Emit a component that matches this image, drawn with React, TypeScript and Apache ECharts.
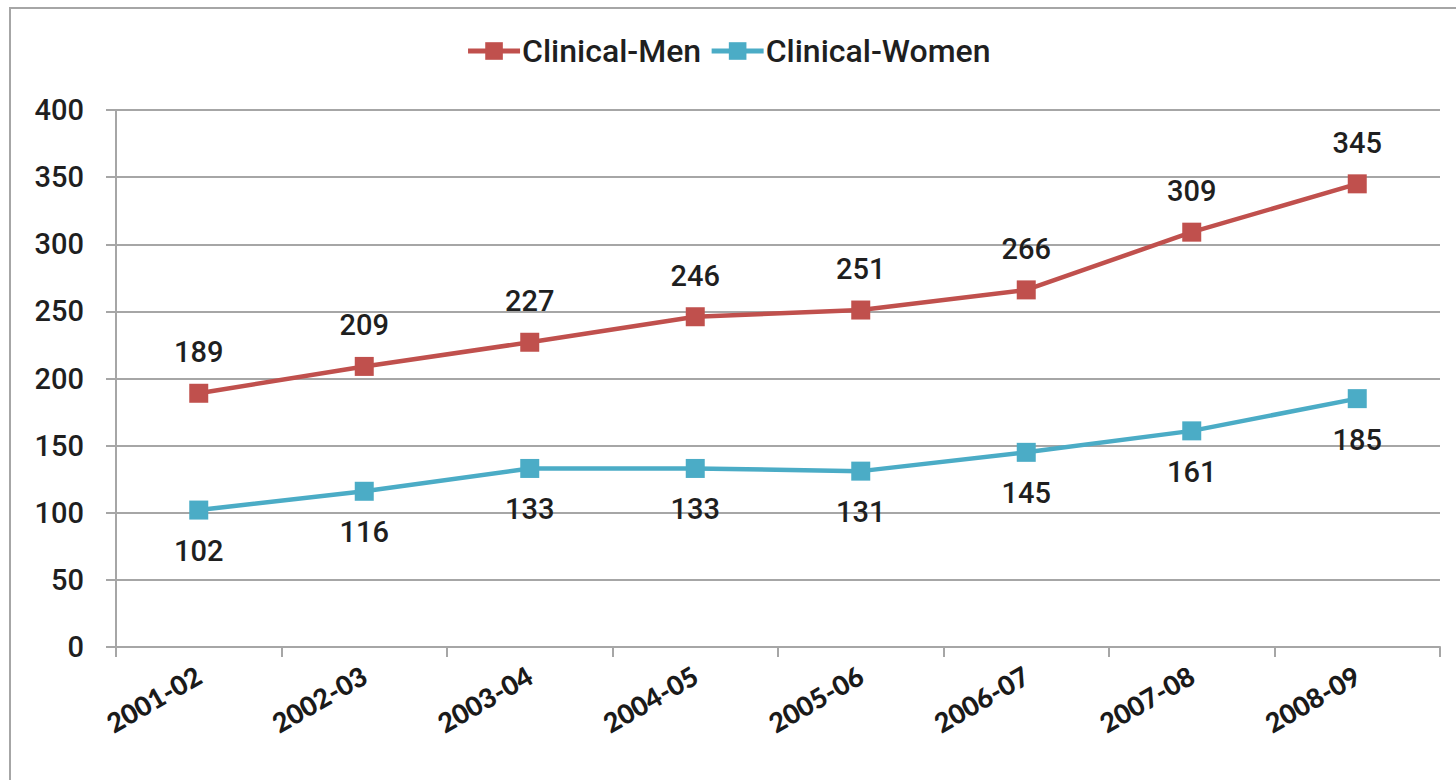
import React, { useEffect, useRef } from "react";
import * as echarts from "echarts";

const categories = ["2001-02", "2002-03", "2003-04", "2004-05", "2005-06", "2006-07", "2007-08", "2008-09"];
const menValues = [189, 209, 227, 246, 251, 266, 309, 345];
const womenValues = [102, 116, 133, 133, 131, 145, 161, 185];
const seriesNames = ["Clinical-Men", "Clinical-Women"];

const NARROW = "Roboto, 'Liberation Sans Narrow', sans-serif";
const MEN = "#C0504D";
const WOMEN = "#4BACC6";

export default function App() {
  const ref = useRef<HTMLDivElement>(null);
  useEffect(() => {
    if (!ref.current) return;
    const chart = echarts.init(ref.current, undefined, { renderer: "svg" });
    const labelStyle = {
      show: true,
      fontFamily: NARROW,
      fontWeight: 500,
      fontSize: 29,
      color: "#1f1f1f",
      distance: 17,
    };
    chart.setOption({
      animation: false,
      backgroundColor: "#fff",
      graphic: [
        {
          type: "rect",
          shape: { x: 10, y: 8, width: 1500, height: 820 },
          style: { fill: "none", stroke: "#a6a6a6", lineWidth: 2 },
          silent: true,
        },
      ],
      legend: {
        top: 30,
        left: "center",
        itemGap: 8,
        itemWidth: 52,
        itemHeight: 22,
        lineStyle: { width: 5 },
        textStyle: { fontFamily: NARROW, fontWeight: 500, fontSize: 32, color: "#1f1f1f", padding: [0, 0, 0, -3] },
        data: seriesNames,
      },
      grid: { left: 116, right: 16, top: 110, bottom: 133, containLabel: false },
      xAxis: {
        type: "category",
        data: categories,
        boundaryGap: true,
        axisLine: { lineStyle: { color: "#a6a6a6", width: 2 } },
        axisTick: { show: true, length: 10, alignWithLabel: false, lineStyle: { color: "#a6a6a6", width: 2 } },
        axisLabel: {
          rotate: 30,
          margin: 26,
          fontFamily: "Lato, 'Open Sans', sans-serif",
          fontWeight: 900,
          fontSize: 27,
          color: "#1a1a1a",
        },
      },
      yAxis: {
        type: "value",
        min: 0,
        max: 400,
        interval: 50,
        axisLine: { show: true, lineStyle: { color: "#a6a6a6", width: 2 } },
        axisTick: { show: true, length: 10, lineStyle: { color: "#a6a6a6", width: 2 } },
        splitLine: { show: true, lineStyle: { color: "#a6a6a6", width: 2 } },
        axisLabel: {
          margin: 32,
          fontFamily: NARROW,
          fontWeight: 500,
          fontSize: 29,
          color: "#1f1f1f",
        },
      },
      series: [
        {
          name: seriesNames[0],
          type: "line",
          data: menValues,
          symbol: "rect",
          symbolSize: 19,
          lineStyle: { color: MEN, width: 4.5 },
          itemStyle: { color: MEN },
          label: { ...labelStyle, position: "top" },
        },
        {
          name: seriesNames[1],
          type: "line",
          data: womenValues,
          symbol: "rect",
          symbolSize: 19,
          lineStyle: { color: WOMEN, width: 4.5 },
          itemStyle: { color: WOMEN },
          label: { ...labelStyle, position: "bottom" },
        },
      ],
    });
    return () => chart.dispose();
  }, []);
  return (
    <div
      ref={ref}
      style={{ position: "fixed", left: 0, top: 0, width: 1456, height: 780 }}
    />
  );
}
